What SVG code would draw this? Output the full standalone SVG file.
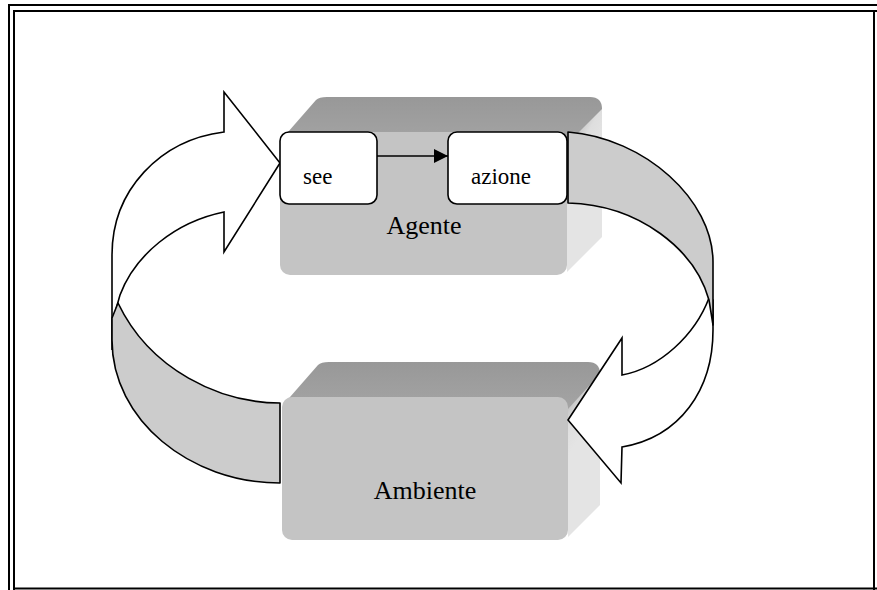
<svg xmlns="http://www.w3.org/2000/svg" width="877" height="590" viewBox="0 0 877 590">
  <defs>
    <linearGradient id="topGrad" x1="0" y1="1" x2="0" y2="0">
      <stop offset="0" stop-color="#a4a4a4"/>
      <stop offset="1" stop-color="#989898"/>
    </linearGradient>
    <linearGradient id="sideGradA" gradientUnits="userSpaceOnUse" x1="567" y1="120" x2="602" y2="140">
      <stop offset="0" stop-color="#a6a6a6"/>
      <stop offset="0.6" stop-color="#dedede"/>
      <stop offset="1" stop-color="#e4e4e4"/>
    </linearGradient>
    <linearGradient id="sideGradB" gradientUnits="userSpaceOnUse" x1="568" y1="385" x2="600" y2="405">
      <stop offset="0" stop-color="#a6a6a6"/>
      <stop offset="0.6" stop-color="#dedede"/>
      <stop offset="1" stop-color="#e4e4e4"/>
    </linearGradient>
    <marker id="head" viewBox="0 0 10 10" refX="10" refY="5" markerWidth="17" markerHeight="14" markerUnits="userSpaceOnUse" orient="auto">
      <path d="M0,0 L10,5 L0,10 Z" fill="#000"/>
    </marker>
    <style>
      .frame { fill: none; stroke: #000; stroke-width: 2; }
      .front { fill: #c4c4c4; }
      .top { fill: url(#topGrad); }
      .band { fill: #cccccc; stroke: #000; stroke-width: 1.6; stroke-linejoin: round; }
      .face { fill: #ffffff; stroke: #000; stroke-width: 1.6; stroke-linejoin: miter; }
      .inner { fill: #ffffff; stroke: #000; stroke-width: 1.6; }
      .big { font-size: 26px; fill: #000; text-anchor: middle; }
      .small { font-size: 23px; fill: #000; }
      .link { stroke: #000; stroke-width: 1.6; fill: none; }
    </style>
  </defs>

  <rect width="877" height="590" fill="#ffffff"/>

  <!-- page frame: double rule on top and left -->
  <g id="frame">
    <path class="frame" d="M9,590 V5 H877"/>
    <path class="frame" d="M14,590 V11 H877"/>
    <path class="frame" d="M13,588.5 H877"/>
    <path class="frame" stroke-width="1.5" d="M874,11 V590"/>
  </g>

  <!-- Agente block -->
  <g id="agente">
    <path fill="url(#sideGradA)" d="M567,142 L602,107 L602,237 L567,272 Z"/>
    <path class="top" d="M281,140 L316,100 Q319,97 327,97 L590,97 Q602,97 602,109 L567,144 Z"/>
    <rect class="front" x="280" y="132" width="287" height="143" rx="10"/>
    <text class="big" x="424" y="234" font-family="Liberation Serif, Times New Roman, DejaVu Serif, serif">Agente</text>
  </g>

  <!-- Ambiente block -->
  <g id="ambiente">
    <path fill="url(#sideGradB)" d="M568,407 L600,374 L600,505 L568,537 Z"/>
    <path class="top" d="M283,405 L318,365 Q321,362 329,362 L588,362 Q600,362 600,374 L568,409 Z"/>
    <rect class="front" x="282" y="397" width="286" height="143" rx="10"/>
    <text class="big" x="425" y="499" font-family="Liberation Serif, Times New Roman, DejaVu Serif, serif">Ambiente</text>
  </g>

  <!-- connectors: curved band arrows and the internal link -->
  <g id="connectors">
    <!-- Ambiente to see: left loop -->
    <path class="face" d="M112,350 L112,255 C112,190 160,140 224,132 L224,92 L280,163 L224,252 L224,212 C175,222 135,255 120,295 C115,310 112,330 112,350 Z"/>
    <path class="band" d="M280,403 C220,403 150,370 118,303 L112,318 L112,340 C112,420 190,483 280,483 Z"/>
    <!-- azione to Ambiente: right loop -->
    <path class="face" d="M713,300 L713,330 C713,390 680,437 622,447 L621,483 L568,420 L622,338 L622,375 C660,368 695,335 709,298 Z"/>
    <path class="band" d="M568,132 C645,138 713,200 713,262 L713,325 L709,300 C695,250 640,205 568,203 Z"/>
    <!-- see to azione -->
    <line class="link" x1="377" y1="156" x2="448" y2="156" marker-end="url(#head)"/>
  </g>

  <g id="see">
    <rect class="inner" x="280" y="132" width="97" height="72" rx="9"/>
    <text class="small" x="303" y="184" font-family="Liberation Serif, Times New Roman, DejaVu Serif, serif">see</text>
  </g>

  <g id="azione">
    <rect class="inner" x="448" y="132" width="119" height="72" rx="9"/>
    <text class="small" x="471" y="184" font-family="Liberation Serif, Times New Roman, DejaVu Serif, serif">azione</text>
  </g>
</svg>
